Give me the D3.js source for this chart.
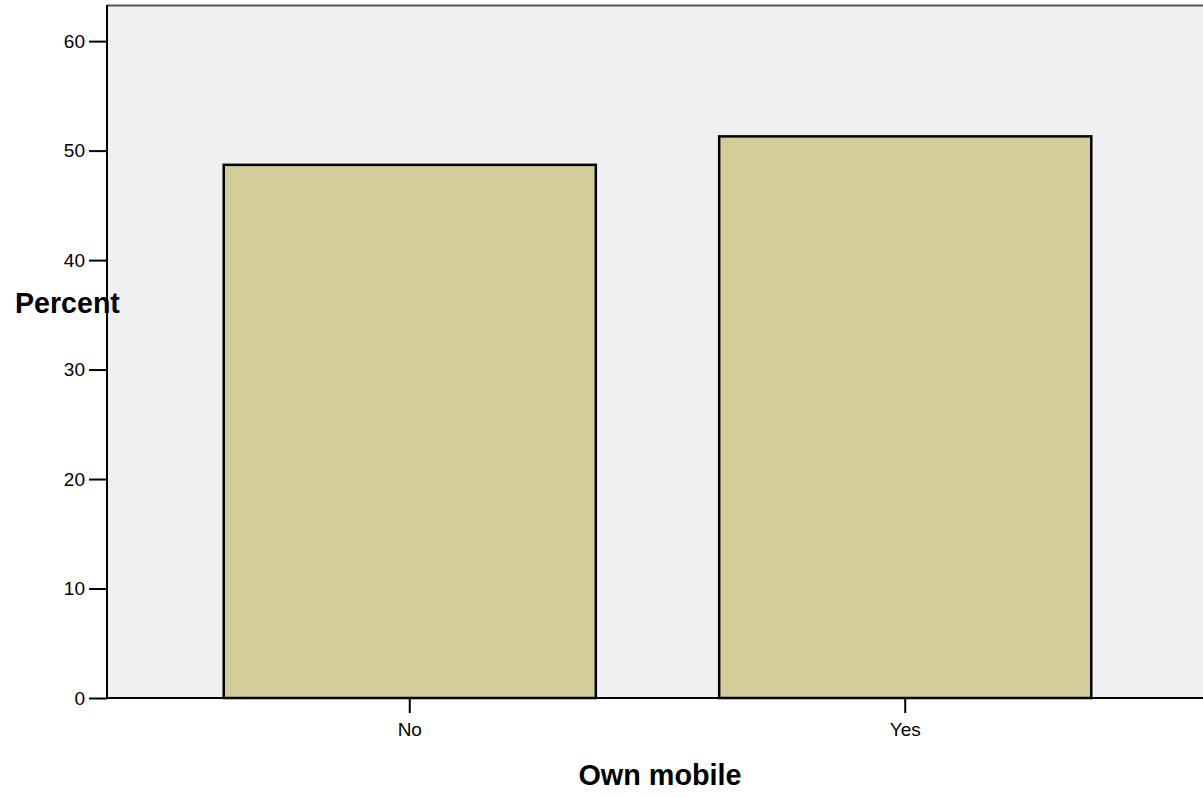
<!DOCTYPE html>
<html><head><meta charset="utf-8">
<script src="https://cdn.jsdelivr.net/npm/d3@7/dist/d3.min.js"></script>
<style>html,body{margin:0;padding:0;background:#fff;}svg{display:block;}</style>
</head><body>
<script>
const categories = ["No", "Yes"];
const percents = [48.7, 51.3];
const yTicks = [0, 10, 20, 30, 40, 50, 60];
const xTitle = "Own mobile";
const yTitle = "Percent";

const W = 1203, H = 797;
const plot = {left: 107, right: 1208, top: 5, bottom: 698};
const svg = d3.select("body").append("svg").attr("width", W).attr("height", H);
const font = "'Liberation Sans', Arial, sans-serif";

const x = d3.scaleBand().domain(categories).range([plot.left, plot.right])
  .paddingInner(0.249).paddingOuter(0.2356);
const y = d3.scaleLinear().domain([0, 63.3]).range([plot.bottom, plot.top]);

svg.append("rect").attr("x", plot.left).attr("y", plot.top)
  .attr("width", plot.right - plot.left).attr("height", plot.bottom - plot.top)
  .attr("fill", "#f0f0f0");
svg.append("line").attr("x1", plot.left).attr("x2", plot.right)
  .attr("y1", plot.top + 0.5).attr("y2", plot.top + 0.5)
  .attr("stroke", "#555").attr("stroke-width", 2);

svg.selectAll("rect.bar").data(categories).enter().append("rect")
  .attr("class", "bar")
  .attr("x", d => x(d)).attr("width", x.bandwidth())
  .attr("y", (d, i) => y(percents[i])).attr("height", (d, i) => y(0) - y(percents[i]))
  .attr("fill", "#d3ce99").attr("stroke", "#000").attr("stroke-width", 2.5);

const yAxis = svg.append("g").attr("transform", `translate(${plot.left},0)`)
  .call(d3.axisLeft(y).tickValues(yTicks).tickSize(18).tickPadding(4).tickFormat(d3.format("d")));
yAxis.select(".domain").attr("stroke", "#000").attr("stroke-width", 2)
  .attr("d", `M0,${plot.top}V${plot.bottom}`);
yAxis.selectAll(".tick line").attr("stroke", "#000").attr("stroke-width", 2);
yAxis.selectAll("text").attr("font-family", font).attr("font-size", 19).attr("fill", "#000");

const xAxis = svg.append("g").attr("transform", `translate(0,${plot.bottom})`)
  .call(d3.axisBottom(x).tickSize(15).tickPadding(10));
xAxis.select(".domain").attr("stroke", "#000").attr("stroke-width", 2)
  .attr("d", `M${plot.left},0H${plot.right}`);
xAxis.selectAll(".tick line").attr("stroke", "#000").attr("stroke-width", 2);
xAxis.selectAll("text").attr("font-family", font).attr("font-size", 19).attr("fill", "#000");

svg.append("text").attr("x", 660).attr("y", 785).attr("text-anchor", "middle")
  .attr("font-family", font).attr("font-weight", "bold").attr("font-size", 28.8)
  .text(xTitle);
svg.append("text").attr("x", 15).attr("y", 313).attr("text-anchor", "start")
  .attr("font-family", font).attr("font-weight", "bold").attr("font-size", 28.6)
  .text(yTitle);
// left axis line drawn over the title, as in the reference
svg.append("line").attr("x1", plot.left).attr("x2", plot.left)
  .attr("y1", plot.top).attr("y2", plot.bottom).attr("stroke", "#000").attr("stroke-width", 2);
</script>
</body></html>
